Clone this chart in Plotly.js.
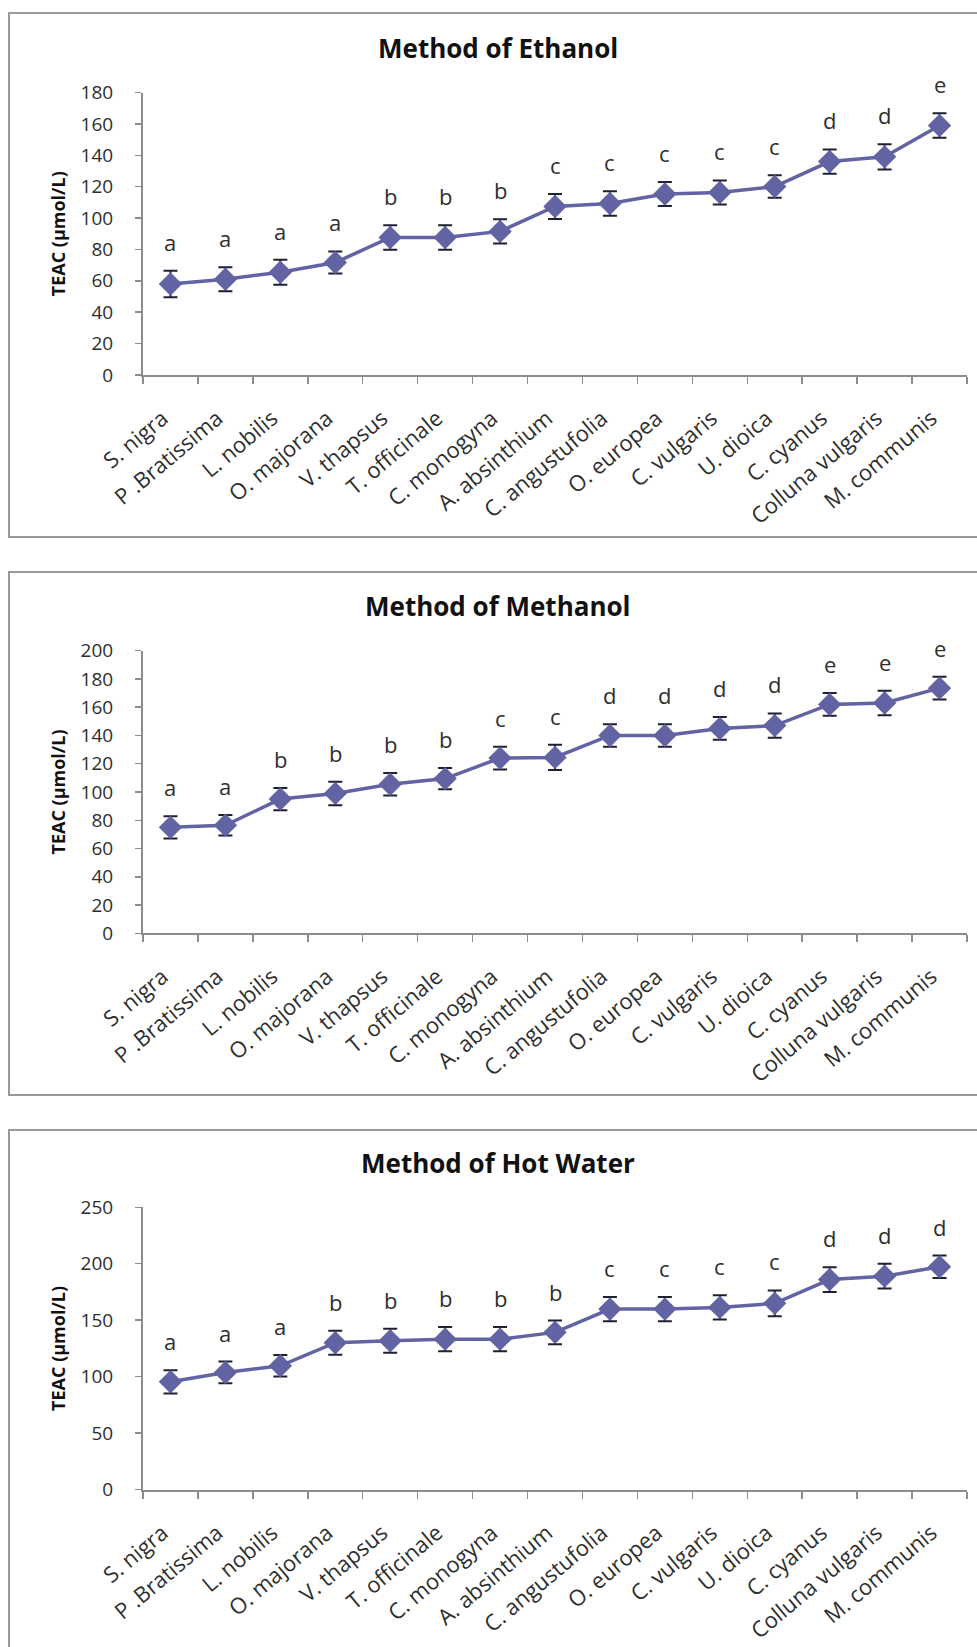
<!DOCTYPE html>
<html>
<head>
<meta charset="utf-8">
<script src="https://cdn.plot.ly/plotly-3.0.1.min.js"></script>
<style>
  html, body { margin: 0; padding: 0; background: #ffffff; }
  #chart { width: 977px; height: 1647px; }
</style>
</head>
<body>
<div id="chart"></div>
<script>
// ---------- data ----------
const categories = ['S. nigra', 'P .Bratissima', 'L. nobilis', 'O. majorana', 'V. thapsus',
  'T. officinale', 'C. monogyna', 'A. absinthium', 'C. angustufolia', 'O. europea',
  'C. vulgaris', 'U. dioica', 'C. cyanus', 'Colluna vulgaris', 'M. communis'];

const ethanol = [58, 61, 65.5, 71.7, 87.6, 87.6, 91.5, 107.4, 109.3, 115.3, 116.3, 120.1, 136, 139, 159];
const ethanolErr = [8.5, 7.6, 8, 7, 7.8, 7.8, 7.7, 8, 7.8, 7.6, 7.7, 7.2, 7.7, 8, 7.8];
const ethanolGroups = ['a', 'a', 'a', 'a', 'b', 'b', 'b', 'c', 'c', 'c', 'c', 'c', 'd', 'd', 'e'];

const methanol = [75, 76.5, 95, 99, 105.5, 109.5, 124, 124.5, 140, 140, 145, 147, 162, 163, 173.5];
const methanolErr = [7.9, 7.3, 7.9, 8.3, 7.9, 7.5, 8, 9, 7.9, 7.9, 8, 8.6, 8, 8.6, 8];
const methanolGroups = ['a', 'a', 'b', 'b', 'b', 'b', 'c', 'c', 'd', 'd', 'd', 'd', 'e', 'e', 'e'];

const hotWater = [95.4, 103.7, 109.6, 130, 131.8, 133.2, 133.2, 139.2, 159.8, 159.8, 161.3, 164.9, 186, 189, 197.3];
const hotWaterErr = [10.3, 9.6, 9.5, 10.7, 10.7, 10.7, 10.7, 10.5, 10.8, 10.8, 10.7, 11.5, 11, 11, 10];
const hotWaterGroups = ['a', 'a', 'a', 'b', 'b', 'b', 'b', 'b', 'c', 'c', 'c', 'c', 'd', 'd', 'd'];

const panelTitles = ['Method of Ethanol', 'Method of Methanol', 'Method of Hot Water'];
const yTitle = 'TEAC (µmol/L)';
const yMax = [180, 200, 250];
const yStep = [20, 20, 50];

// ---------- layout helpers ----------
const W = 977, H = 1647;
const px = v => v / W;
const py = v => 1 - v / H;

const FONT = 'Open Sans, Lato, DejaVu Sans, sans-serif';
const SERIES_COLOR = '#6163a3';
const AXIS_COLOR = '#8c8c8c';
const TEXT_COLOR = '#2e2e2e';

// pixel geometry for each panel
const panels = [
  {top: 92.5, bottom: 375, boxTop: 13, boxBottom: 537, titleY: 48},
  {top: 650.7, bottom: 933.3, boxTop: 572, boxBottom: 1095, titleY: 606},
  {top: 1207.3, bottom: 1489.5, boxTop: 1130, boxBottom: 1660, titleY: 1163}
];
const series = [
  {y: ethanol, err: ethanolErr, groups: ethanolGroups},
  {y: methanol, err: methanolErr, groups: methanolGroups},
  {y: hotWater, err: hotWaterErr, groups: hotWaterGroups}
];

const traces = [];
const layout = {
  width: W, height: H,
  margin: {l: 0, r: 0, t: 0, b: 0},
  paper_bgcolor: '#ffffff',
  plot_bgcolor: '#ffffff',
  showlegend: false,
  font: {family: FONT, color: TEXT_COLOR},
  annotations: [],
  shapes: []
};

series.forEach((s, i) => {
  const n = i === 0 ? '' : String(i + 1);
  const p = panels[i];
  traces.push({
    type: 'scatter',
    mode: 'lines+markers',
    x: categories,
    y: s.y,
    xaxis: 'x' + n,
    yaxis: 'y' + n,
    line: {color: SERIES_COLOR, width: 3.5},
    marker: {symbol: 'diamond', size: 18, color: SERIES_COLOR},
    error_y: {type: 'data', array: s.err, visible: true, color: '#1f1f33', thickness: 2, width: 7},
    hoverinfo: 'x+y'
  });

  layout['xaxis' + n] = {
    domain: [px(143), px(967)],
    anchor: 'y' + n,
    type: 'category',
    range: [-0.5, categories.length - 0.5],
    tickson: 'boundaries',
    ticks: 'outside',
    ticklen: 7,
    tickwidth: 1.5,
    tickcolor: AXIS_COLOR,
    showline: true,
    linecolor: AXIS_COLOR,
    linewidth: 2,
    showgrid: false,
    zeroline: false,
    tickangle: -40,
    ticklabelstandoff: 20,
    ticklabelshift: -8,
    tickfont: {family: FONT, size: 22, color: TEXT_COLOR},
    fixedrange: true
  };
  layout['yaxis' + n] = {
    domain: [py(p.bottom), py(p.top)],
    anchor: 'x' + n,
    range: [0, yMax[i]],
    dtick: yStep[i],
    tick0: 0,
    ticks: 'outside',
    ticklen: 6,
    tickwidth: 1.5,
    tickcolor: AXIS_COLOR,
    showline: true,
    linecolor: AXIS_COLOR,
    linewidth: 2,
    showgrid: false,
    zeroline: false,
    ticklabelstandoff: 18,
    tickfont: {family: FONT, size: 19, color: TEXT_COLOR},
    title: {text: yTitle, font: {family: FONT, size: 18, color: '#111', weight: 'bold'}, standoff: 10},
    fixedrange: true
  };

  // panel title
  layout.annotations.push({
    xref: 'paper', yref: 'paper', x: px(498), y: py(p.titleY),
    xanchor: 'center', yanchor: 'middle', showarrow: false,
    text: panelTitles[i],
    font: {family: FONT, size: 26, color: '#111', weight: 'bold'}
  });

  // significance letters
  s.groups.forEach((g, k) => {
    layout.annotations.push({
      xref: 'x' + n, yref: 'y' + n,
      x: categories[k], y: s.y[k] + s.err[k],
      yshift: 29, xanchor: 'center', yanchor: 'middle', showarrow: false,
      text: g,
      font: {family: FONT, size: 22, color: TEXT_COLOR}
    });
  });

  // panel border
  layout.shapes.push({
    type: 'rect', xref: 'paper', yref: 'paper',
    x0: px(9), x1: 1.02, y0: py(p.boxBottom), y1: py(p.boxTop),
    line: {color: '#9a9a9a', width: 2}, fillcolor: 'rgba(0,0,0,0)', layer: 'below'
  });
});

Plotly.newPlot('chart', traces, layout, {staticPlot: true, displayModeBar: false});
</script>
</body>
</html>
